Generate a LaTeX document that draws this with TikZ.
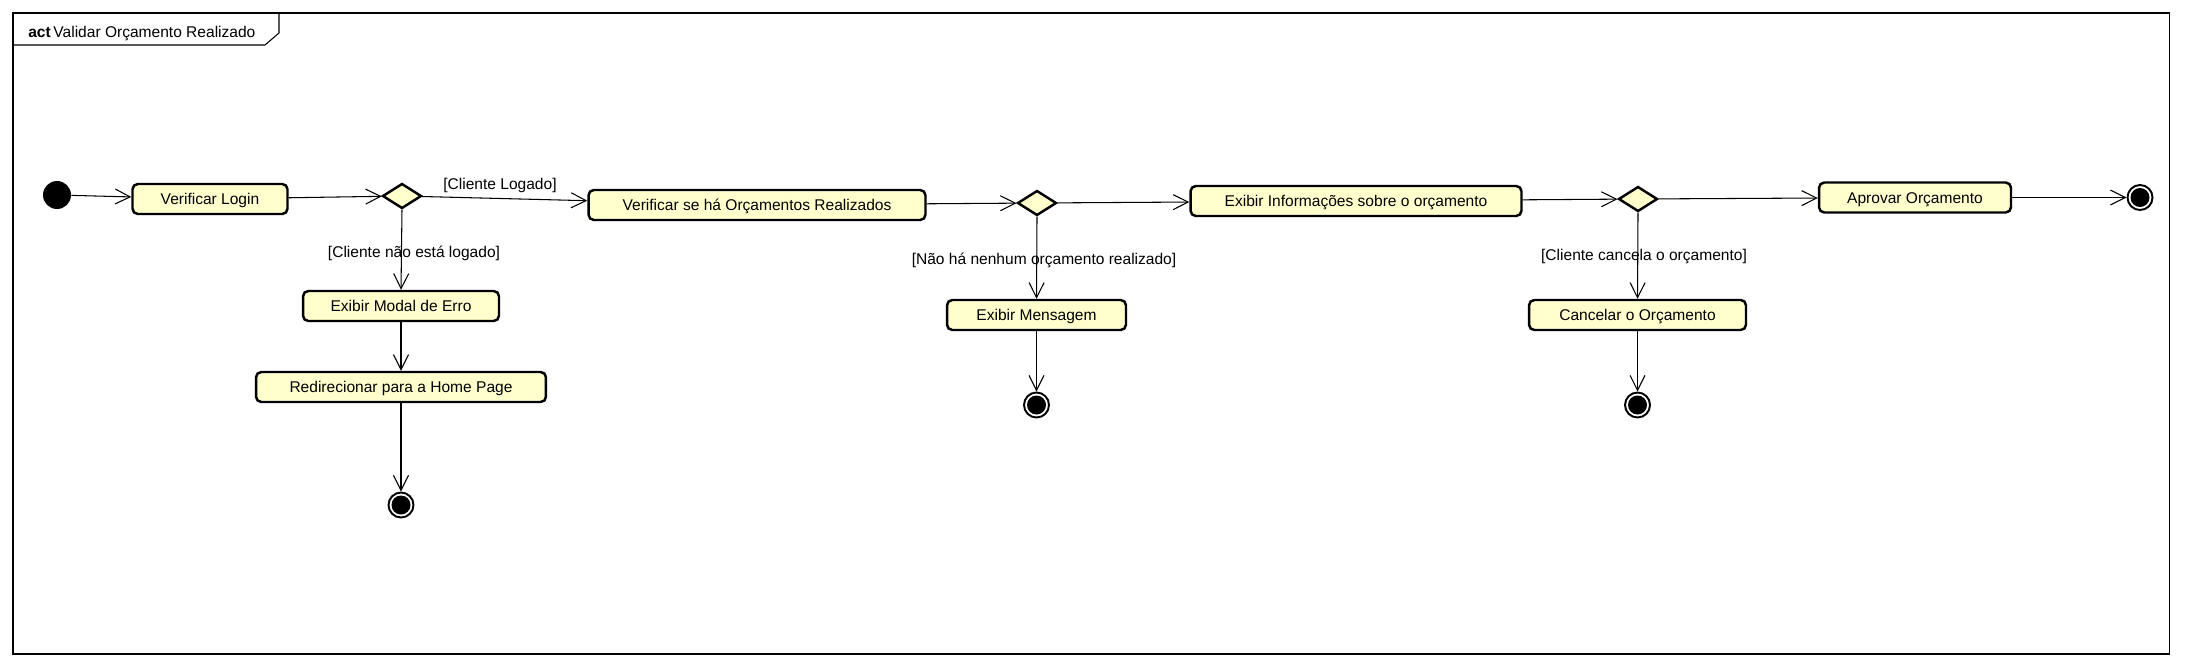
\documentclass[tikz,border=0pt]{standalone}
\usepackage{fontspec}
\setmainfont{Liberation Sans}
\usetikzlibrary{shapes.geometric}
\usetikzlibrary{arrows.meta}
\usepackage{xcolor}
\definecolor{acaofill}{RGB}{255,255,206}

\begin{document}
\begin{tikzpicture}[x=0.02cm, y=-0.02cm, font=\fontsize{8.85}{10}\selectfont,
    >={Straight Barb[length=0.3cm, width=0.3cm]}]
        \tikzstyle{acao}=[rectangle, draw=black, line width=1.4pt, fill=acaofill, rounded corners=3pt, minimum height=0.6cm, inner sep=0pt, text height=6.3pt, text depth=0pt]
        \tikzstyle{decisao}=[diamond, draw=black, line width=1.4pt, fill=acaofill, minimum width=0.78cm, minimum height=0.5cm, inner sep=0pt]
        \tikzstyle{inicio}=[circle, fill=black, minimum size=0.56cm, inner sep=0pt]
        \tikzstyle{fim}=[circle, draw=black, line width=1.1pt, fill=white, minimum size=0.5cm, inner sep=0pt,
            path picture={\fill[black] (path picture bounding box.center) circle (0.19cm);}]
        \tikzstyle{fluxo}=[->, line width=0.6pt]

        \useasboundingbox (0,0) rectangle (2186,666);

        % 外框和标题
        \draw[line width=0.6pt] (13,13) rectangle (2169,654);
        \draw[line width=0.6pt] (13,45) -- (265,45) -- (279,33) -- (279,13);
        \node[anchor=base west, inner sep=0pt] (titulo) at (28,37) {\textbf{act}\hspace{1.5pt}Validar Orçamento Realizado};

        % 主流程节点
        \node[inicio] (ini) at (57,195) {};
        \node[acao, minimum width=3.1cm] (login) at (210,199) {Verificar Login};
        \node[decisao] (dec1) at (402,196) {};
        \node[acao, minimum width=6.74cm] (orc) at (757,205) {Verificar se há Orçamentos Realizados};
        \node[decisao] (dec2) at (1037,203) {};
        \node[acao, minimum width=6.62cm] (info) at (1356,201) {Exibir Informações sobre o orçamento};
        \node[decisao] (dec3) at (1638,199) {};
        \node[acao, minimum width=3.84cm] (aprovar) at (1915,197.5) {Aprovar Orçamento};
        \node[fim] (fim1) at (2140,197.5) {};

        % 分支节点
        \node[acao, minimum width=3.92cm] (modal) at (401,306) {Exibir Modal de Erro};
        \node[acao, minimum width=5.8cm] (redir) at (401,387) {Redirecionar para a Home Page};
        \node[fim] (fim2) at (401,505) {};
        \node[acao, minimum width=3.58cm] (msg) at (1036.5,315) {Exibir Mensagem};
        \node[fim] (fim3) at (1036.5,405) {};
        \node[acao, minimum width=4.34cm] (cancel) at (1637.5,315) {Cancelar o Orçamento};
        \node[fim] (fim4) at (1637.5,405) {};

        % 画边
        \foreach \a/\b in {ini/login, login/dec1, dec1/orc, orc/dec2, dec2/info, info/dec3, dec3/aprovar, aprovar/fim1,
                           modal/redir, redir/fim2, msg/fim3, cancel/fim4} {
            \draw[fluxo] (\a) -- (\b);
        }
        \draw[fluxo] (dec1.south) -- (modal.north);
        \draw[fluxo] (dec2.south) -- (msg.north);
        \draw[fluxo] (dec3.south) -- (cancel.north);

        % 条件文字
        \node (g1) at (500,185) {[Cliente Logado]};
        \node (g2) at (414,253) {[Cliente não está logado]};
        \node (g3) at (1044,260) {[Não há nenhum orçamento realizado]};
        \node (g4) at (1644,257) {[Cliente cancela o orçamento]};
    \end{tikzpicture}
\end{document}
